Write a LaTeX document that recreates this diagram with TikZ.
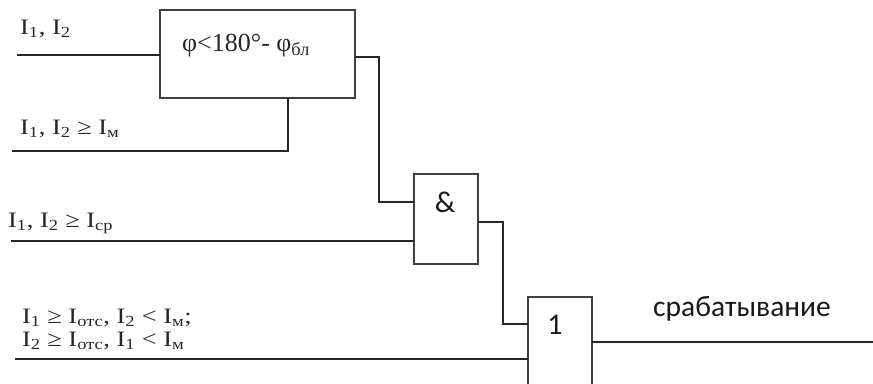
\documentclass[tikz,border=0pt]{standalone}
\usepackage{fontspec}
\usepackage{graphicx}
\setmainfont{Liberation Serif}
\newfontfamily\gatefont{Carlito}
\newcommand\widelabel[1]{\scalebox{1.2}[1]{#1}}
\begin{document}
\begin{tikzpicture}[x=1pt,y=-1pt,
  wire/.style={line width=1.4pt,draw=black!85},
  block/.style={draw=black!75,line width=1.2pt,fill=none,inner sep=0pt,outer sep=0pt,rectangle},
  cond/.style={anchor=base west,inner sep=0pt,text=black!85,font=\fontsize{22}{25}\selectfont},
  sym/.style={inner sep=0pt,text=black!90,font=\gatefont\fontsize{30}{34}\selectfont}]
\useasboundingbox (0,0) rectangle (873,383);
\clip (0,0) rectangle (873,383);

% logic blocks
\node[block,minimum width=195pt,minimum height=88pt] (cmp) at (257.5,54) {};
\node[block,minimum width=64pt,minimum height=90pt] (and) at (446,219) {};
\node[block,minimum width=64pt,minimum height=100pt] (or) at (560,347) {};

% block contents
\node[anchor=base west,inner sep=0pt,text=black!85,font=\fontsize{26}{30}\selectfont] (cmptxt) at (182,51)
  {φ<180°- φ\textsubscript{бл}};
\node[sym,anchor=base] (andtxt) at (445,212) {\&};
\node[sym,anchor=base] (ortxt) at (555,334) {1};

% input conditions
\node[cond] (c1) at (20,34) {\widelabel{I\textsubscript{1}, I\textsubscript{2}}};
\node[cond] (c2) at (20,134) {\widelabel{I\textsubscript{1}, I\textsubscript{2} ≥ I\textsubscript{м}}};
\node[cond] (c3) at (8,227) {\widelabel{I\textsubscript{1}, I\textsubscript{2} ≥ I\textsubscript{ср}}};
\node[cond] (c4) at (22,323) {\widelabel{I\textsubscript{1} ≥ I\textsubscript{отс}, I\textsubscript{2} < I\textsubscript{м};}};
\node[cond] (c5) at (22,346) {\widelabel{I\textsubscript{2} ≥ I\textsubscript{отс}, I\textsubscript{1} < I\textsubscript{м}}};

% output label
\node[sym,anchor=base west,font=\gatefont\fontsize{29.5}{34}\selectfont] (res) at (653,316) {срабатывание};

% wire end points and bends
\coordinate (in1) at (17,55);
\coordinate (in2) at (12,151);
\coordinate (in3) at (11,241);
\coordinate (in4) at (15,359);
\coordinate (out) at (873,342);
\coordinate (b2) at (288,151);
\coordinate (b3) at (379,57);
\coordinate (b4) at (379,202);
\coordinate (b5) at (503,222);
\coordinate (b6) at (503,324);

% wiring
\draw[wire] (in1) -- (in1 -| cmp.west);
\draw[wire] (in2) -- (b2) -- (b2 |- cmp.south);
\draw[wire] (b3 -| cmp.east) -- (b3) -- (b4) -- (b4 -| and.west);
\draw[wire] (in3) -- (in3 -| and.west);
\draw[wire] (b5 -| and.east) -- (b5) -- (b6) -- (b6 -| or.west);
\draw[wire] (in4) -- (in4 -| or.west);
\draw[wire] (out -| or.east) -- (out);
\end{tikzpicture}
\end{document}
